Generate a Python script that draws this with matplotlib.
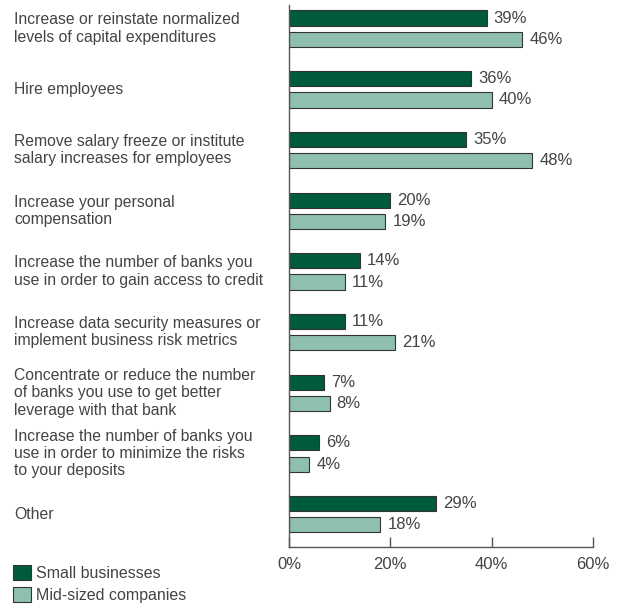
import numpy as np
import matplotlib
matplotlib.use('Agg')
from matplotlib import pyplot as plt
from matplotlib.patches import Patch
from matplotlib.transforms import blended_transform_factory

# data
categories = [
    'Increase or reinstate normalized\nlevels of capital expenditures',
    'Hire employees',
    'Remove salary freeze or institute\nsalary increases for employees',
    'Increase your personal\ncompensation',
    'Increase the number of banks you\nuse in order to gain access to credit',
    'Increase data security measures or\nimplement business risk metrics',
    'Concentrate or reduce the number\nof banks you use to get better\nleverage with that bank',
    'Increase the number of banks you\nuse in order to minimize the risks\nto your deposits',
    'Other',
]
small = [39, 36, 35, 20, 14, 11, 7, 6, 29]
mid = [46, 40, 48, 19, 11, 21, 8, 4, 18]
series_names = ['Small businesses', 'Mid-sized companies']
xticks = [0, 20, 40, 60]

dark = '#005a3e'
light = '#8fbfad'
edge = '#333333'
txt = '#444444'

plt.rcParams['font.family'] = ['Liberation Sans', 'DejaVu Sans']

fig = plt.figure(figsize=(6.25, 6.07), dpi=100)
ax = fig.add_axes([289/625, 1-547/607, (593-289)/625, (547-5)/607])

y = np.arange(len(categories))
h = 0.25
off = 0.175
ax.barh(y - off, small, height=h, color=dark, edgecolor=edge, linewidth=0.8)
ax.barh(y + off, mid, height=h, color=light, edgecolor=edge, linewidth=0.8)

# category labels: x in figure coords, y in data coords
lab_tr = blended_transform_factory(fig.transFigure, ax.transData)
for i in range(len(categories)):
    ax.text(small[i] + 1.4, y[i] - off, '%d%%' % small[i], va='center', ha='left',
            fontsize=12, color=txt)
    ax.text(mid[i] + 1.4, y[i] + off, '%d%%' % mid[i], va='center', ha='left',
            fontsize=12, color=txt)
    ax.text(14/625, y[i], categories[i], transform=lab_tr, clip_on=False,
            va='center', ha='left', fontsize=11.3, color=txt, linespacing=1.2)

ax.set_xlim(0, 60)
ax.set_ylim(8.54, -0.39)
ax.set_xticks(xticks)
ax.set_xticklabels(['%d%%' % v for v in xticks], fontsize=12, color=txt)
ax.set_yticks([])
ax.tick_params(axis='x', direction='in', length=7, width=1, color='#555555', pad=7)
for s in ['top', 'right']:
    ax.spines[s].set_visible(False)
for s in ['left', 'bottom']:
    ax.spines[s].set_color('#555555')
    ax.spines[s].set_linewidth(1.0)

handles = [Patch(facecolor=dark, edgecolor=edge, linewidth=0.8),
           Patch(facecolor=light, edgecolor=edge, linewidth=0.8)]
fig.legend(handles, series_names, loc='lower left', bbox_to_anchor=(2/625, -0.012),
           frameon=False, fontsize=11.5, handlelength=1.1, handleheight=1.1,
           handletextpad=0.35, labelspacing=0.4, borderpad=0.2, labelcolor=txt)

fig.savefig('out.png', dpi=100)
